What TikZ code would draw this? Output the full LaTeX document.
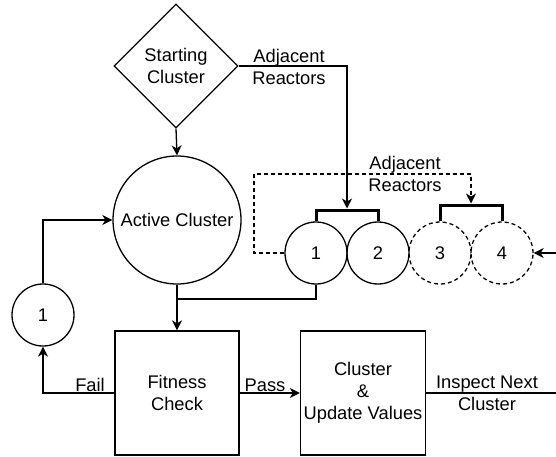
\documentclass[tikz,border=0pt]{standalone}
\usepackage{fontspec}
\setmainfont{Liberation Sans}
\usetikzlibrary{shapes.geometric,arrows.meta}
\begin{document}
\begin{tikzpicture}[x=1pt,y=-1pt,
  every node/.style={font=\fontsize{18.3}{22}\selectfont, align=center},
  line/.style={line width=1.3pt},
  arr/.style={line/.try, line width=1.3pt, -{Stealth[length=10pt,width=10pt,inset=3pt]}},
  dsh/.style={dash pattern=on 4pt off 3pt},
  bracket/.style={line width=3pt},
  shp/.style={draw, line width=1.3pt, inner sep=0pt},
  rc/.style={shp, circle, minimum size=62pt},
  box/.style={shp, rectangle, minimum width=124pt, minimum height=124pt},
  lbl/.style={inner sep=0pt}]
\useasboundingbox (0,0) rectangle (556,457);
% nodes
\node[shp, diamond, minimum width=124pt, minimum height=124pt, aspect=1] (sc) at (176,66) {Starting\\Cluster};
\node[shp, circle, minimum size=128pt] (ac) at (177,220) {Active Cluster};
\node[rc] (r1) at (316,253) {1};
\node[rc] (r2) at (378,253) {2};
\node[rc, dsh] (r3) at (440,253) {3};
\node[rc, dsh] (r4) at (502,253) {4};
\node[rc] (c1) at (43,315) {1};
\node[box] (fc) at (177,393) {Fitness\\Check};
\node[box, minimum width=125pt] (cu) at (363,393) {Cluster\\\&\\Update Values};
% labels
\node[lbl] (la1) at (289,67) {Adjacent\\Reactors};
\node[lbl] (la2) at (405,174) {Adjacent\\Reactors};
\node[lbl] (lfail) at (90,385) {Fail};
\node[lbl] (lpass) at (265,385) {Pass};
\node[lbl] (lnext) at (487,393) {Inspect Next\\Cluster};
% coordinates
\coordinate (b12) at (347,210);
\coordinate (b34) at (471,205);
\coordinate (dc) at (254,174);
\coordinate (rin) at (556,253);
\coordinate (jn) at (177,299);
\coordinate (out) at (556,393);
% brackets
\draw[bracket] (r1.north) |- (b12) -| (r2.north);
\draw[bracket] (r3.north) |- (b34) -| (r4.north);
% connectors
\draw[arr] (sc.south) -- (ac.north);
\draw[arr, shorten >=1.5pt] (sc.east) -| (b12);
\draw[arr, dsh, shorten >=1.5pt] (r1.west) -| (dc) -| (b34);
\draw[arr] (rin) -- (r4.east);
\draw[line] (r1.south) |- (jn);
\draw[arr] (ac.south) -- (fc.north);
\draw[arr] (fc.west) -| (c1.south);
\draw[arr] (c1.north) |- (ac.west);
\draw[arr] (fc.east) -- (cu.west);
\draw[line] (cu.east) -- (out);
\end{tikzpicture}
\end{document}
